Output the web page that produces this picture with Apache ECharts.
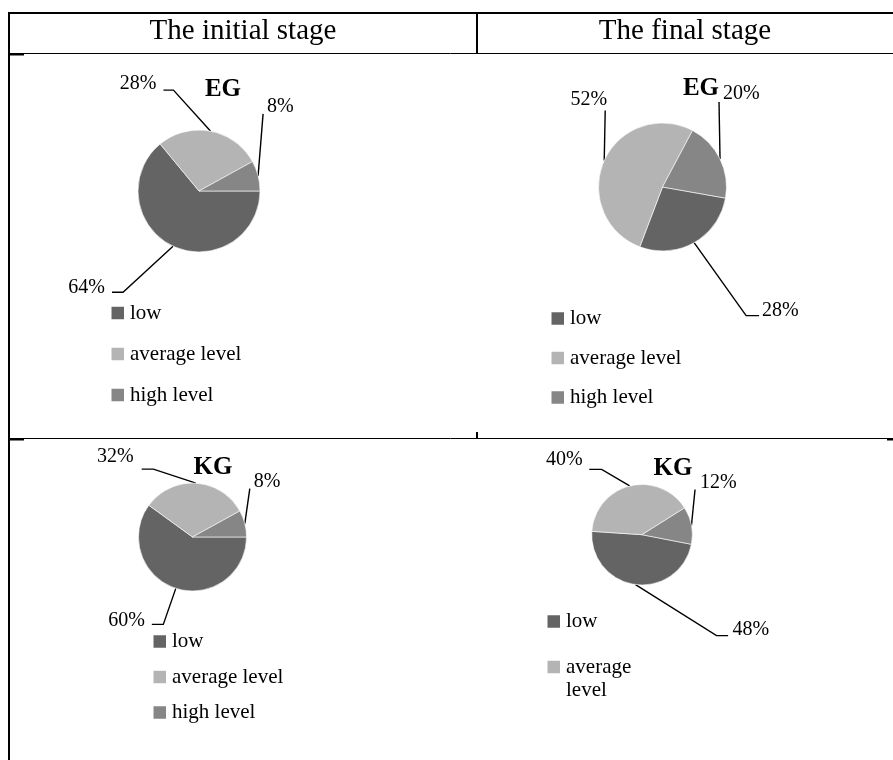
<!DOCTYPE html>
<html>
<head>
<meta charset="utf-8">
<title>EG / KG levels, initial and final stage</title>
<script src="https://cdn.jsdelivr.net/npm/echarts@6/dist/echarts.min.js"></script>
<style>
  html, body { margin: 0; padding: 0; background: #fff; }
  #chart { width: 893px; height: 760px; }
</style>
</head>
<body>
<div id="chart"></div>
<script>
// ---- data ----
const categories = ['low', 'average level', 'high level'];
const stageTitles = ['The initial stage', 'The final stage'];
const groupTitles = ['EG', 'KG'];
const egInitial = [64, 28, 8];
const egFinal = [28, 52, 20];
const kgInitial = [60, 32, 8];
const kgFinal = [48, 40, 12];

// ---- styling ----
const SERIF = "'Liberation Serif', 'Times New Roman', serif";
const sliceColors = ['#646464', '#b4b4b4', '#868686'];

// Leader-line label layout: the line starts on the rim at the middle of each
// slice, bends by [bx, by], runs horizontally by `tail`, and the text sits at
// [tx, ty] from the end point with the given alignment.
function leaderLayout(values, center, radius, startAngle, spec) {
  const total = values.reduce((s, v) => s + v, 0);
  return function (params) {
    const i = params.dataIndex;
    let before = 0;
    for (let k = 0; k < i; k++) before += values[k];
    const theta = (-startAngle + 360 * (before + values[i] / 2) / total) * Math.PI / 180;
    const a = [center[0] + radius * Math.cos(theta), center[1] + radius * Math.sin(theta)];
    const s = spec[i];
    const b = [a[0] + s[0], a[1] + s[1]];
    const e = [b[0] + s[2], b[1]];
    return {
      x: e[0] + s[3],
      y: e[1] + s[4],
      align: s[5],
      verticalAlign: 'middle',
      labelLinePoints: [a, b, e]
    };
  };
}

function pieSeries(values, center, radius, startAngle, spec) {
  return {
    type: 'pie',
    center: center,
    radius: radius,
    startAngle: startAngle,
    clockwise: true,
    silent: true,
    animation: false,
    avoidLabelOverlap: false,
    data: categories.map((name, i) => ({
      name: name,
      value: values[i],
      itemStyle: { color: sliceColors[i] }
    })),
    itemStyle: { borderColor: '#ffffff', borderWidth: 0.6 },
    label: {
      show: true,
      position: 'outside',
      formatter: '{c}%',
      fontFamily: SERIF,
      fontSize: 20,
      color: '#000'
    },
    labelLine: { show: true, lineStyle: { color: '#000', width: 1.4 } },
    labelLayout: leaderLayout(values, center, radius, startAngle, spec)
  };
}

// Vertical legend; `left` is where the coloured square starts, `top` is
// 10px above the first square's centre.
function legendBlock(left, top, gap, data, formatter) {
  const opt = {
    orient: 'vertical',
    left: left - 1.5,
    top: top,
    padding: 0,
    itemGap: gap,
    itemWidth: 14.5,
    itemHeight: 14.5,
    icon: 'rect',
    selectedMode: false,
    data: data,
    textStyle: { fontFamily: SERIF, fontSize: 21, color: '#000', lineHeight: 20 }
  };
  if (formatter) opt.formatter = formatter;
  return opt;
}

// ---- table frame ----
const frame = [
  { x1: 8, y1: 13, x2: 893, y2: 13, w: 2 },      // top border
  { x1: 9, y1: 12, x2: 9, y2: 760, w: 2 },       // left border
  { x1: 477, y1: 12, x2: 477, y2: 53, w: 2 },    // header divider
  { x1: 8, y1: 53.5, x2: 893, y2: 53.5, w: 1 },  // header bottom
  { x1: 8, y1: 54.5, x2: 24, y2: 54.5, w: 2 },
  { x1: 8, y1: 438.5, x2: 893, y2: 438.5, w: 1 },// row divider
  { x1: 8, y1: 439.5, x2: 24, y2: 439.5, w: 2 },
  { x1: 477, y1: 432, x2: 477, y2: 438, w: 2 },
  { x1: 887, y1: 439.5, x2: 893, y2: 439.5, w: 2 }
];

const graphics = frame.map(l => ({
  type: 'line',
  silent: true,
  shape: { x1: l.x1, y1: l.y1, x2: l.x2, y2: l.y2 },
  style: { stroke: '#000', lineWidth: l.w }
}));

function addText(text, x, y, size, weight) {
  graphics.push({
    type: 'text',
    silent: true,
    x: x,
    y: y,
    style: {
      text: text,
      fontFamily: SERIF,
      fontSize: size,
      fontWeight: weight || 'normal',
      fill: '#000',
      align: 'center',
      verticalAlign: 'middle'
    }
  });
}

addText(stageTitles[0], 243, 31, 29);
addText(stageTitles[1], 685, 31, 29);
addText(groupTitles[0], 223, 90, 25, 'bold');
addText(groupTitles[0], 701, 89, 25, 'bold');
addText(groupTitles[1], 213, 468, 25, 'bold');
addText(groupTitles[1], 673, 469, 25, 'bold');

// ---- chart ----
const chart = echarts.init(document.getElementById('chart'), null, { renderer: 'canvas' });

chart.setOption({
  backgroundColor: '#ffffff',
  animation: false,
  legend: [
    legendBlock(111, 302.5, 20, categories),
    legendBlock(551, 308, 18.5, categories),
    legendBlock(153, 631, 14.5, categories),
    // narrow cell: the second entry wraps onto two lines, square beside the first
    legendBlock(547, 611, 0.5, [
      categories[0],
      { name: categories[1], textStyle: { lineHeight: 23 } }
    ], name => name === categories[1] ? '\naverage\nlevel' : name)
  ],
  series: [
    pieSeries(egInitial, [199, 191], 61, 0, [
      [-50, 46, -11, -7, -4, 'right'],
      [-37, -41, -10, -7, -6, 'right'],
      [5, -62, 0, 4, -7, 'left']
    ]),
    pieSeries(egFinal, [662.5, 187], 64, -10, [
      [52, 73, 13, 3, -5, 'left'],
      [1, -50, 0, 2, -11, 'right'],
      [-1, -57, 0, 4, -8, 'left']
    ]),
    pieSeries(kgInitial, [192.5, 537], 54, 0, [
      [-12.5, 36, -11.5, -7, -4, 'right'],
      [-42.5, -14, -11.7, -8, -12.6, 'right'],
      [5, -35, 0, 4, -6.6, 'left']
    ]),
    pieSeries(kgFinal, [642, 534.7], 50.3, -11, [
      [81, 51, 11.6, 4.4, -5.7, 'left'],
      [-28, -16.6, -12.4, -6.6, -9.3, 'right'],
      [3.6, -36, 0, 5, -7, 'left']
    ])
  ],
  graphic: graphics
});
</script>
</body>
</html>
